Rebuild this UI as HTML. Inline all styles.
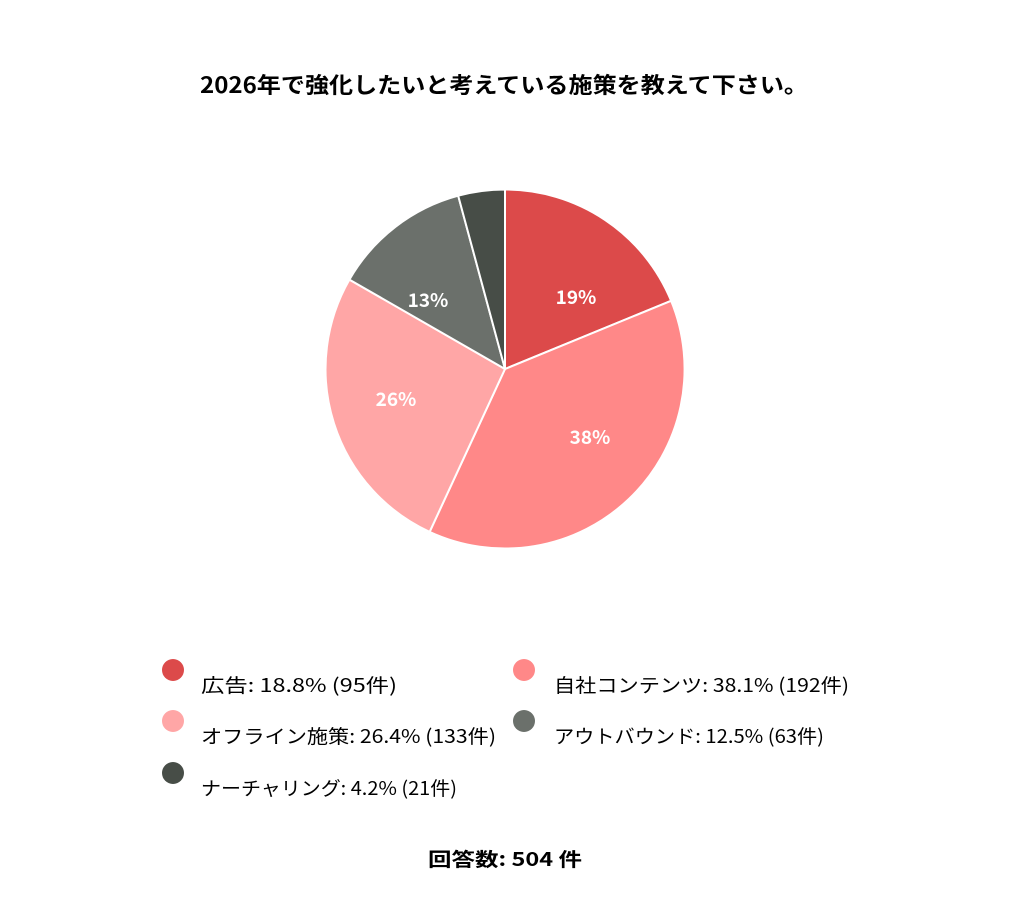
<!DOCTYPE html>
<html><head><meta charset="utf-8"><style>
body{margin:0;background:#fff;width:1012px;height:912px;overflow:hidden;font-family:"Noto Sans CJK JP","Liberation Sans",sans-serif;}
</style></head><body>
<svg width="1012" height="912" xmlns="http://www.w3.org/2000/svg" font-family="Noto Sans CJK JP, Liberation Sans, sans-serif">
<text x="200" y="93" font-size="22" font-weight="bold" fill="#000" textLength="608" lengthAdjust="spacingAndGlyphs">2026年で強化したいと考えている施策を教えて下さい。</text>
<g stroke="#fff" stroke-width="2" stroke-linejoin="round">
<path d="M505,369 L505,189.5 A179.5,179.5 0 0 1 671.1,300.8 Z" fill="#DC4A4A"/>
<path d="M505,369 L671.1,300.8 A179.5,179.5 0 0 1 429.6,531.9 Z" fill="#FF8888"/>
<path d="M505,369 L429.6,531.9 A179.5,179.5 0 0 1 349.4,279.6 Z" fill="#FFA6A6"/>
<path d="M505,369 L349.4,279.6 A179.5,179.5 0 0 1 458.2,195.7 Z" fill="#6B706B"/>
<path d="M505,369 L458.2,195.7 A179.5,179.5 0 0 1 505,189.5 Z" fill="#474D47"/>
</g>
<g fill="#fff" font-size="19" font-weight="bold" text-anchor="middle">
<text x="576" y="304">19%</text>
<text x="590" y="444">38%</text>
<text x="396" y="406">26%</text>
<text x="428" y="307">13%</text>
</g>
<g font-size="19" fill="#000" lengthAdjust="spacingAndGlyphs">
<circle cx="173" cy="670" r="11" fill="#DC4A4A"/><text x="201" y="692" textLength="196" lengthAdjust="spacingAndGlyphs">広告: 18.8% (95件)</text>
<circle cx="524" cy="670" r="11" fill="#FF8888"/><text x="554" y="692" textLength="295" lengthAdjust="spacingAndGlyphs">自社コンテンツ: 38.1% (192件)</text>
<circle cx="173" cy="721" r="11" fill="#FFA6A6"/><text x="201" y="743" textLength="295" lengthAdjust="spacingAndGlyphs">オフライン施策: 26.4% (133件)</text>
<circle cx="524" cy="721" r="11" fill="#6B706B"/><text x="554" y="743" textLength="270" lengthAdjust="spacingAndGlyphs">アウトバウンド: 12.5% (63件)</text>
<circle cx="173" cy="773" r="11" fill="#474D47"/><text x="201" y="795" textLength="256" lengthAdjust="spacingAndGlyphs">ナーチャリング: 4.2% (21件)</text>
</g>
<text x="428" y="866" font-size="19" font-weight="bold" fill="#000" textLength="154" lengthAdjust="spacingAndGlyphs">回答数: 504 件</text>
</svg>
</body></html>
